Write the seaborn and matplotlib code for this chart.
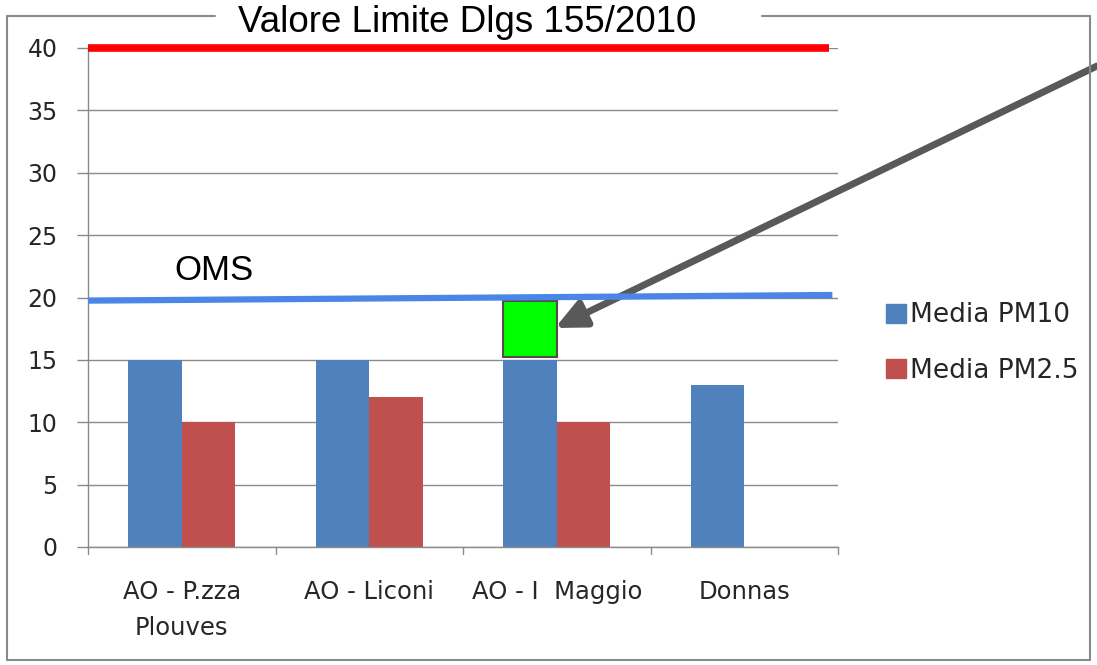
import matplotlib
matplotlib.use("Agg")
import matplotlib.pyplot as plt
import matplotlib.patches as mpatches
from matplotlib.lines import Line2D
import seaborn as sns
import pandas as pd
import numpy as np

categories = ["AO - P.zza\nPlouves", "AO - Liconi", "AO - I  Maggio", "Donnas"]
pm10 = [15, 15, 15, 13]
pm25 = [10, 12, 10, np.nan]
series_names = ["Media PM10", "Media PM2.5"]
limit_value = 40
oms_start, oms_end = 19.75, 20.2
highlight_low, highlight_high = 15.2, 19.7
yticks = [0, 5, 10, 15, 20, 25, 30, 35, 40]

sns.set_theme(style="white")
plt.rcParams['font.family'] = ['DejaVu Sans']

df = pd.DataFrame({
    "cat": categories * 2,
    "val": pm10 + pm25,
    "serie": [series_names[0]] * 4 + [series_names[1]] * 4,
})

blue = "#4F81BD"
red = "#C0504D"
txt = "#262626"
axc = "#8a8a8a"

fig = plt.figure(figsize=(10.97, 6.65), dpi=100)
ax = fig.add_axes([88/1097, 1-547/665, (838-88)/1097, (547-48)/665])

sns.barplot(data=df, x="cat", y="val", hue="serie", palette=[blue, red],
            width=0.57, ax=ax, legend=False, saturation=1, errorbar=None,
            linewidth=0)

ax.set_ylim(0, 40)
ax.set_xlim(-0.5, 3.5)
ax.set_yticks(yticks)
ax.yaxis.grid(True, color=axc, linewidth=1)
ax.set_axisbelow(True)
ax.set_xlabel("")
ax.set_ylabel("")
for s in ["top", "right"]:
    ax.spines[s].set_visible(False)
for s in ["left", "bottom"]:
    ax.spines[s].set_color(axc)
    ax.spines[s].set_linewidth(1)

ax.tick_params(axis="y", left=True, length=8, width=1, color=axc, labelsize=17,
               labelcolor=txt, pad=14)
ax.set_xticks([0, 1, 2, 3])
ax.set_xticklabels(categories, fontsize=17.5, color=txt, linespacing=1.6)
ax.tick_params(axis="x", bottom=False, pad=18)
for b in [-0.5, 0.5, 1.5, 2.5, 3.5]:
    ax.plot([b, b], [0, -0.55], color=axc, lw=1, clip_on=False)

# green highlight box on third PM10 bar
off = 0.57 / 4
ax.bar([2 - off], [highlight_high - highlight_low], bottom=[highlight_low],
       width=0.57 / 2, color="#00FF00", edgecolor="#5a4a4a", linewidth=1.5, zorder=3)

# limit lines
ax.plot([-0.5, 3.45], [limit_value, limit_value], color="#FF0000", lw=5.5,
        solid_capstyle="butt", clip_on=False, zorder=4)
ax.plot([-0.5, 3.47], [oms_start, oms_end], color="#4A86E8", lw=4.5,
        solid_capstyle="butt", clip_on=False, zorder=4)
fig.text(214/1097, 1-280/665, "OMS", fontsize=25, color="black", ha="center",
         va="baseline", family="Liberation Sans")

# legend
handles = [mpatches.Patch(color=blue, label=series_names[0]),
           mpatches.Patch(color=red, label=series_names[1])]
fig.legend(handles=handles, loc="center left", bbox_to_anchor=(886/1097, 1-343/665),
           frameon=False, fontsize=19, handlelength=0.75, handleheight=0.75,
           labelspacing=1.1, handletextpad=0.15, labelcolor=txt, borderpad=0,
           borderaxespad=0)

# outer frame with gap for the title
fx = lambda x: x / 1097
fy = lambda y: 1 - y / 665
for xs, ys in [((7, 215), (16, 16)), ((762, 1090), (16, 16)),
               ((1090, 1090), (16, 660)), ((1090, 7), (660, 660)), ((7, 7), (660, 16))]:
    fig.add_artist(Line2D([fx(xs[0]), fx(xs[1])], [fy(ys[0]), fy(ys[1])],
                          transform=fig.transFigure, color=axc, lw=1.5))
fig.text(467/1097, 1-32/665, "Valore Limite Dlgs 155/2010", fontsize=26.5,
         ha="center", va="baseline", color="black", family="Liberation Sans")

# arrow
ax.annotate("", xy=(555/1097, 1-328/665), xycoords="figure fraction",
            xytext=(1097/1097, 1-66/665), textcoords="figure fraction",
            arrowprops=dict(arrowstyle="-|>,head_length=1.5,head_width=0.7",
                            color="#595959", lw=5, shrinkA=0, shrinkB=0),
            annotation_clip=False)

fig.savefig("out.png", dpi=100, facecolor="white")
